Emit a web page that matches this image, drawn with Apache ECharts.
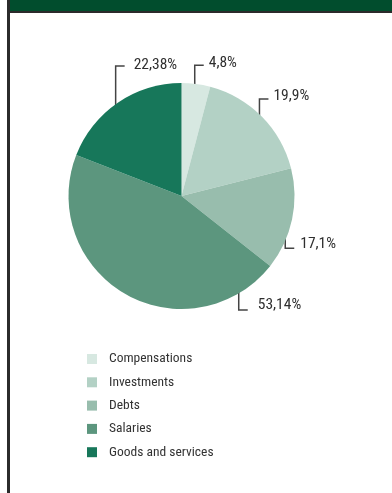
<!DOCTYPE html>
<html>
<head>
<meta charset="utf-8">
<script src="https://cdn.jsdelivr.net/npm/echarts@6/dist/echarts.min.js"></script>
<style>
    html, body { margin: 0; padding: 0; background: #fff; }
    #pie { width: 392px; height: 493px; }
</style>
</head>
<body>
<div id="pie"></div>
<script>
// data
const categories = ['Compensations', 'Investments', 'Debts', 'Salaries', 'Goods and services'];
const values = [4.8, 19.9, 17.1, 53.14, 22.38];
const colors = ['#d7e8e1', '#b3d1c5', '#98bdad', '#5c967e', '#17775a'];

// elbow label lines: start point inside the slice (fraction of the slice), rise, text gap and text offset
const labelAnchor = [0.48, 0.52, 0.56, 0.12, 0.45];
const labelRise = [-24, -23, 24, 23, -45];
const labelGap = [5, 5, 6, 10, 9];
const labelDy = [-2, -3, -4, -4.5, -1];

document.addEventListener('DOMContentLoaded', function () {
    const chartDom = document.getElementById('pie');
    const chart = echarts.init(chartDom);

    const cx = 181.5, cy = 196, R = 113;
    const labelRadius = 107.5;
    const total = values.reduce((a, b) => a + b, 0);
    const font = '"Roboto Condensed", "Liberation Sans", sans-serif';

    const option = {
        animation: false,
        color: colors,
        graphic: [
            { type: 'rect', shape: { x: 10, y: 0, width: 382, height: 11 }, style: { fill: '#014d2d' } },
            { type: 'rect', shape: { x: 8, y: 11, width: 384, height: 2 }, style: { fill: '#2b2b2b' } },
            { type: 'rect', shape: { x: 7, y: 0, width: 3, height: 493 }, style: { fill: '#2b2b2b' } }
        ],
        legend: {
            orient: 'vertical',
            left: 87,
            top: 352,
            padding: 0,
            itemWidth: 10,
            itemHeight: 10,
            itemGap: 9.3,
            icon: 'rect',
            data: categories,
            textStyle: {
                fontFamily: font,
                fontSize: 13.5,
                lineHeight: 14,
                color: '#333',
                padding: [0, 0, 0, 7]
            }
        },
        series: [
            {
                type: 'pie',
                center: [cx, cy],
                radius: R,
                startAngle: 90,
                clockwise: true,
                avoidLabelOverlap: false,
                emphasis: { disabled: true },
                label: {
                    show: true,
                    position: 'outside',
                    fontFamily: font,
                    fontSize: 15.5,
                    color: '#2f2f2f',
                    formatter: function (p) {
                        return String(p.value).replace('.', ',') + '%';
                    }
                },
                labelLine: {
                    show: true,
                    lineStyle: { color: '#444', width: 1.5 }
                },
                labelLayout: function (params) {
                    const i = params.dataIndex;
                    let start = 0;
                    for (let k = 0; k < i; k++) start += values[k];
                    const a = (start + values[i] * labelAnchor[i]) / total * Math.PI * 2;
                    const x0 = cx + labelRadius * Math.sin(a);
                    const y0 = cy - labelRadius * Math.cos(a);
                    const y1 = y0 + labelRise[i];
                    const x2 = x0 + 9;
                    return {
                        x: x2 + labelGap[i],
                        y: y1 + labelDy[i],
                        align: 'left',
                        verticalAlign: 'middle',
                        labelLinePoints: [[x0, y0], [x0, y1], [x2, y1]]
                    };
                },
                data: categories.map((name, i) => ({ name: name, value: values[i] }))
            }
        ]
    };
    chart.setOption(option);
});
</script>
</body>
</html>
